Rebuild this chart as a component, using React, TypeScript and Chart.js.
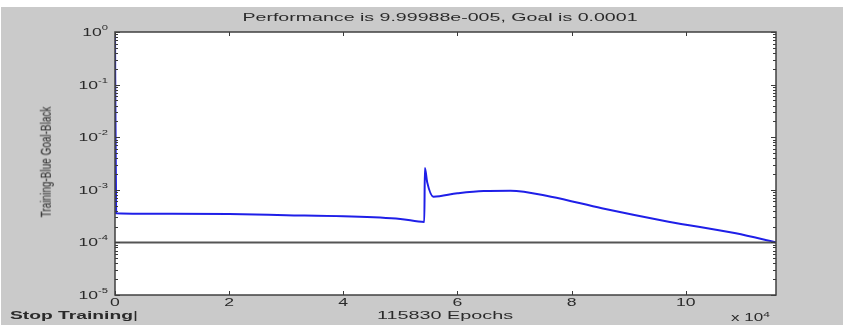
import React, { useEffect, useRef } from "react";
import { Chart, registerables } from "chart.js";

Chart.register(...registerables);

const EPOCHS_X = [0, 0.02, 1, 2, 3, 4, 5, 5.42, 5.43, 5.47, 5.58, 6, 6.46, 6.93, 7.64, 8.53, 9.7, 10.88, 11.583];
const TRAINING = [1, 3.6e-4, 3.5e-4, 3.45e-4, 3.3e-4, 3.15e-4, 2.8e-4, 2.45e-4, 2.6e-3, 1.4e-3, 7.4e-4, 8.6e-4, 9.5e-4, 9.6e-4, 7.4e-4, 4.45e-4, 2.48e-4, 1.49e-4, 1.0e-4];
const GOAL_X = [0, 11.583];
const GOAL = [1e-4, 1e-4];
const X_TICKS = [0, 2, 4, 6, 8, 10];
const X_TICK_LABELS = ["0", "2", "4", "6", "8", "10"];
const Y_TICKS = [1e-5, 1e-4, 1e-3, 1e-2, 1e-1, 1];
const Y_TICK_EXPONENTS = ["-5", "-4", "-3", "-2", "-1", "0"];
const TITLE = "Performance is 9.99988e-005, Goal is 0.0001";
const X_LABEL = "115830 Epochs";
const Y_LABEL = "Training-Blue  Goal-Black";

const STRETCH = 1.6;
const FONT = "'Liberation Sans', Arial, sans-serif";

const framePlugin = {
  id: "matlabFrame",
  beforeDatasetsDraw(chart: any) {
    const { ctx, chartArea: a } = chart;
    ctx.save();
    ctx.fillStyle = "#ffffff";
    ctx.fillRect(a.left, a.top, a.right - a.left, a.bottom - a.top);
    ctx.restore();
  },
  afterDatasetsDraw(chart: any) {
    const { ctx, chartArea: a, scales } = chart;
    ctx.save();
    ctx.strokeStyle = "#3a3a3a";
    ctx.lineWidth = 1;
    ctx.beginPath();
    X_TICKS.forEach((v) => {
      const px = Math.round(scales.x.getPixelForValue(v)) + 0.5;
      ctx.moveTo(px, a.bottom);
      ctx.lineTo(px, a.bottom - 4);
      ctx.moveTo(px, a.top);
      ctx.lineTo(px, a.top + 4);
    });
    for (let e = -5; e <= 0; e++) {
      for (let m = 1; m <= 9; m++) {
        const v = m * Math.pow(10, e);
        if (v > 1) break;
        const py = Math.round(scales.y.getPixelForValue(v)) + 0.5;
        const len = m === 1 ? 5 : 3;
        ctx.moveTo(a.left, py);
        ctx.lineTo(a.left + len, py);
        ctx.moveTo(a.right, py);
        ctx.lineTo(a.right - len, py);
      }
    }
    ctx.stroke();
    ctx.strokeStyle = "#404040";
    ctx.lineWidth = 1.5;
    ctx.strokeRect(a.left, a.top, a.right - a.left, a.bottom - a.top);

    // tick labels, horizontally stretched like the reference
    ctx.fillStyle = "#2a2a2a";
    ctx.textBaseline = "middle";
    X_TICKS.forEach((v, i) => {
      const px = scales.x.getPixelForValue(v);
      ctx.save();
      ctx.translate(px, a.bottom + 8);
      ctx.scale(STRETCH, 1);
      ctx.font = `11px ${FONT}`;
      ctx.textAlign = "center";
      ctx.fillText(X_TICK_LABELS[i], 0, 0);
      ctx.restore();
    });
    Y_TICKS.forEach((v, i) => {
      const py = scales.y.getPixelForValue(v);
      const rightEdge = a.left - 7;
      ctx.save();
      ctx.font = `7px ${FONT}`;
      const expW = ctx.measureText(Y_TICK_EXPONENTS[i]).width * STRETCH;
      ctx.translate(rightEdge - expW, py + 1);
      ctx.scale(STRETCH, 1);
      ctx.textAlign = "left";
      ctx.fillText(Y_TICK_EXPONENTS[i], 0, -5);
      ctx.font = `11px ${FONT}`;
      ctx.textAlign = "right";
      ctx.fillText("10", 0, 0);
      ctx.restore();
    });
    ctx.restore();
  },
};

export default function App() {
  const canvasRef = useRef<HTMLCanvasElement | null>(null);

  useEffect(() => {
    document.body.style.margin = "0";
    const canvas = canvasRef.current;
    if (!canvas) return;
    const chart = new Chart(canvas, {
      type: "line",
      data: {
        datasets: [
          {
            label: "Goal",
            data: GOAL_X.map((x, i) => ({ x, y: GOAL[i] })),
            borderColor: "#555555",
            borderWidth: 2,
            pointRadius: 0,
            tension: 0,
          },
          {
            label: "Training",
            data: EPOCHS_X.map((x, i) => ({ x, y: TRAINING[i] })),
            borderColor: "#1f1fe8",
            borderWidth: 2,
            pointRadius: 0,
            cubicInterpolationMode: "monotone",
          },
        ],
      },
      options: {
        animation: false,
        responsive: false,
        maintainAspectRatio: false,
        layout: { padding: { top: 32, right: 67, left: 0, bottom: 0 } },
        plugins: { legend: { display: false }, tooltip: { enabled: false }, title: { display: false } },
        scales: {
          x: {
            type: "linear",
            min: 0,
            max: 11.583,
            grid: { display: false, drawTicks: false },
            border: { display: false },
            afterBuildTicks: (scale: any) => {
              scale.ticks = X_TICKS.map((v) => ({ value: v }));
            },
            afterFit: (scale: any) => {
              scale.height = 30;
            },
            ticks: { display: false },
          },
          y: {
            type: "logarithmic",
            min: 1e-5,
            max: 1,
            grid: { display: false, drawTicks: false },
            border: { display: false },
            afterBuildTicks: (scale: any) => {
              scale.ticks = Y_TICKS.map((v) => ({ value: v }));
            },
            afterFit: (scale: any) => {
              scale.width = 115;
            },
            ticks: { display: false },
          },
        },
      },
      plugins: [framePlugin],
    } as any);
    return () => chart.destroy();
  }, []);

  const txt: React.CSSProperties = {
    position: "absolute",
    fontFamily: FONT,
    color: "#2a2a2a",
    whiteSpace: "nowrap",
  };

  return (
    <div style={{ position: "relative", width: 843, height: 325, background: "#ffffff", overflow: "hidden" }}>
      <div style={{ position: "absolute", left: 1, top: 7, right: 0, bottom: 0, background: "#cacaca" }} />
      <canvas ref={canvasRef} width={843} height={325} style={{ position: "absolute", left: 0, top: 0, width: 843, height: 325 }} />
      <div style={{ ...txt, left: 440, top: 11, fontSize: 11, transform: "translateX(-50%) scaleX(1.78)" }}>{TITLE}</div>
      <div style={{ ...txt, left: 445, top: 309, fontSize: 11, transform: "translateX(-50%) scaleX(1.8)" }}>{X_LABEL}</div>
      <div style={{ ...txt, left: 10, top: 309, fontSize: 11, fontWeight: "bold", transform: "scaleX(1.75)", transformOrigin: "left" }}>
        Stop Training<span style={{ fontWeight: "normal" }}>|</span>
      </div>
      <div style={{ ...txt, left: 731, top: 311, fontSize: 10, transform: "scaleX(1.7)", transformOrigin: "left" }}>
        x 10<sup style={{ fontSize: 7 }}>4</sup>
      </div>
      <div
        style={{
          ...txt,
          left: 45,
          top: 162,
          fontSize: 10,
          transform: "translate(-50%, -50%) rotate(-90deg) scaleY(1.5)",
        }}
      >
        {Y_LABEL}
      </div>
    </div>
  );
}
